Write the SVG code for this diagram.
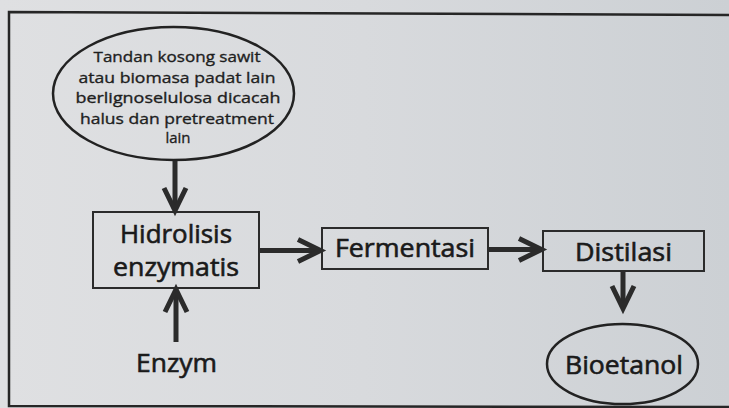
<svg xmlns="http://www.w3.org/2000/svg" width="729" height="408" viewBox="0 0 729 408">
  <defs>
    <linearGradient id="bg" x1="0" y1="0" x2="1" y2="0">
      <stop offset="0" stop-color="#dfe0e2"/>
      <stop offset="0.5" stop-color="#d8dadd"/>
      <stop offset="1" stop-color="#ccd0d4"/>
    </linearGradient>
    <marker id="chev" markerUnits="userSpaceOnUse" orient="auto" overflow="visible" markerWidth="30" markerHeight="30" refX="0" refY="0">
      <path d="M-21,-11 L1.5,0 L-21,11" fill="none" stroke="#2b2b2b" stroke-width="5" stroke-linejoin="miter" stroke-miterlimit="10"/>
    </marker>
    <style>
      .shape { fill: none; stroke: #2b2b2b; stroke-width: 2; }
      .oval { fill: none; stroke: #222; stroke-width: 2.5; }
      .small { font-family: "Open Sans", "Liberation Sans", sans-serif; font-size: 15px; fill: #1e1e1e; stroke: #1e1e1e; stroke-width: 0.35; text-anchor: middle; }
      .big { font-family: "Open Sans", "Liberation Sans", sans-serif; font-size: 25px; fill: #1a1a1a; stroke: #1a1a1a; stroke-width: 0.6; text-anchor: middle; }
      .conn { fill: none; stroke: #2b2b2b; stroke-width: 5; marker-end: url(#chev); }
    </style>
  </defs>

  <rect x="0" y="0" width="729" height="408" fill="url(#bg)"/>
  <path d="M729,15 L9,12 L9,406 L729,407" fill="none" stroke="#262626" stroke-width="2.5"/>

  <g id="node-tandan">
    <ellipse class="oval" cx="173.5" cy="93.5" rx="120.5" ry="66.5"/>
    <text class="small" x="177" y="62" textLength="167" lengthAdjust="spacingAndGlyphs">Tandan kosong sawit</text>
    <text class="small" x="177" y="83" textLength="197" lengthAdjust="spacingAndGlyphs">atau biomasa padat lain</text>
    <text class="small" x="178" y="103" textLength="205" lengthAdjust="spacingAndGlyphs">berlignoselulosa  dicacah</text>
    <text class="small" x="177" y="124" textLength="194" lengthAdjust="spacingAndGlyphs">halus dan pretreatment</text>
    <text class="small" x="178" y="143" textLength="25" lengthAdjust="spacingAndGlyphs">lain</text>
  </g>

  <g id="node-hidrolisis">
    <rect class="shape" x="93" y="212" width="166" height="76"/>
    <text class="big" x="176" y="243" textLength="112" lengthAdjust="spacingAndGlyphs">Hidrolisis</text>
    <text class="big" x="176" y="276" textLength="126" lengthAdjust="spacingAndGlyphs">enzymatis</text>
  </g>

  <g id="node-fermentasi">
    <rect class="shape" x="322" y="228" width="166" height="41"/>
    <text class="big" x="405" y="257" textLength="140" lengthAdjust="spacingAndGlyphs">Fermentasi</text>
  </g>

  <g id="node-distilasi">
    <rect class="shape" x="543" y="231" width="161" height="40"/>
    <text class="big" x="623.5" y="261" textLength="97" lengthAdjust="spacingAndGlyphs">Distilasi</text>
  </g>

  <g id="node-enzym">
    <text class="big" x="176.5" y="372" textLength="81" lengthAdjust="spacingAndGlyphs">Enzym</text>
  </g>

  <g id="node-bioetanol">
    <ellipse class="oval" cx="622.5" cy="364" rx="75.5" ry="40"/>
    <text class="big" x="624" y="374" textLength="118" lengthAdjust="spacingAndGlyphs">Bioetanol</text>
  </g>

  <g id="connectors">
    <line class="conn" x1="175" y1="161" x2="175" y2="209"/>
    <line class="conn" x1="176" y1="342" x2="176" y2="291"/>
    <line class="conn" x1="259" y1="250.5" x2="319" y2="250.5"/>
    <line class="conn" x1="488" y1="249.5" x2="540" y2="249.5"/>
    <line class="conn" x1="623" y1="271" x2="623" y2="307"/>
  </g>
</svg>
